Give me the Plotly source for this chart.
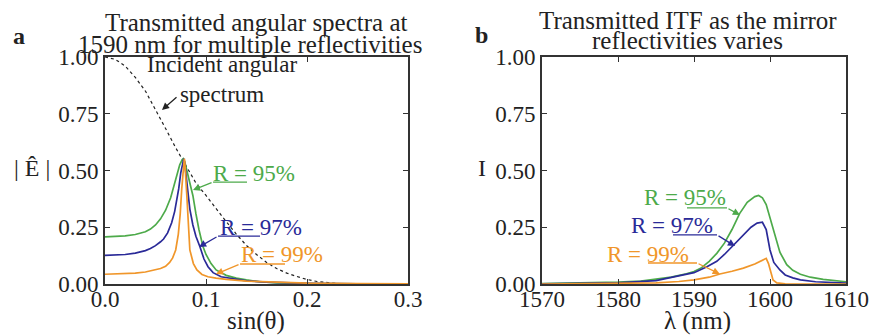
import plotly.graph_objects as go

W, H = 873, 335

# ---------------- data: panel a (angular spectra) ----------------
inc_x = [0.0, 0.01, 0.02, 0.03, 0.04, 0.05, 0.06, 0.07, 0.08, 0.09, 0.10, 0.11, 0.12,
         0.13, 0.14, 0.15, 0.16, 0.17, 0.18, 0.19, 0.20, 0.21, 0.22, 0.23, 0.25, 0.30]
inc_y = [1.0, 0.99, 0.96, 0.91, 0.85, 0.77, 0.685, 0.60, 0.52, 0.445, 0.39, 0.33, 0.275,
         0.22, 0.17, 0.13, 0.095, 0.068, 0.048, 0.033, 0.02, 0.011, 0.005, 0.002, 0.0, 0.0]

r95_x = [0.0, 0.01, 0.02, 0.03, 0.04, 0.045, 0.05, 0.055, 0.06, 0.065, 0.068, 0.071, 0.074,
         0.0765, 0.0775, 0.079, 0.081, 0.084, 0.087, 0.090, 0.093, 0.097, 0.100, 0.105, 0.110,
         0.120, 0.130, 0.140, 0.153, 0.170, 0.200, 0.250, 0.300]
r95_y = [0.208, 0.209, 0.212, 0.218, 0.23, 0.242, 0.26, 0.287, 0.325, 0.38, 0.43, 0.48, 0.525,
         0.548, 0.552, 0.537, 0.50, 0.45, 0.39, 0.31, 0.24, 0.165, 0.13, 0.09, 0.062,
         0.038, 0.026, 0.018, 0.010, 0.005, 0.002, 0.001, 0.0]

r97_x = [0.0, 0.01, 0.02, 0.03, 0.04, 0.045, 0.05, 0.055, 0.058, 0.062, 0.066, 0.069, 0.071,
         0.073, 0.075, 0.077, 0.078, 0.079, 0.0805, 0.082, 0.084, 0.087, 0.090, 0.094, 0.098,
         0.102, 0.107, 0.115, 0.127, 0.140, 0.160, 0.200, 0.250, 0.300]
r97_y = [0.126, 0.127, 0.13, 0.136, 0.147, 0.156, 0.169, 0.186, 0.198, 0.225, 0.27, 0.32, 0.37,
         0.42, 0.49, 0.54, 0.552, 0.53, 0.47, 0.40, 0.33, 0.26, 0.21, 0.164, 0.11,
         0.076, 0.05, 0.032, 0.022, 0.014, 0.008, 0.003, 0.001, 0.0]

r99_x = [0.0, 0.02, 0.03, 0.04, 0.05, 0.055, 0.06, 0.064, 0.067, 0.070, 0.0726, 0.0745, 0.076,
         0.0772, 0.078, 0.0785, 0.079, 0.080, 0.081, 0.082, 0.084, 0.0875, 0.091, 0.096, 0.102,
         0.110, 0.120, 0.140, 0.170, 0.200, 0.250, 0.300]
r99_y = [0.043, 0.045, 0.048, 0.053, 0.061, 0.068, 0.078, 0.095, 0.115, 0.15, 0.22, 0.31, 0.42,
         0.50, 0.54, 0.552, 0.54, 0.48, 0.39, 0.31, 0.15, 0.09, 0.062, 0.042, 0.032,
         0.026, 0.02, 0.013, 0.007, 0.004, 0.002, 0.001]

# ---------------- data: panel b (ITF vs wavelength) ----------------
b95_x = [1570, 1575, 1580, 1583, 1585, 1587, 1589, 1590, 1591, 1592, 1593, 1594, 1595, 1596,
         1597, 1598, 1598.5, 1599, 1599.5, 1600, 1600.7, 1601.3, 1602.2, 1603, 1604, 1605.3,
         1607, 1609, 1610]
b95_y = [0.002, 0.004, 0.008, 0.013, 0.02, 0.03, 0.045, 0.055, 0.072, 0.1, 0.135, 0.18, 0.24, 0.31,
         0.36, 0.385, 0.39, 0.38, 0.35, 0.29, 0.21, 0.14, 0.085, 0.06, 0.043, 0.03,
         0.02, 0.012, 0.01]

b97_x = [1570, 1575, 1580, 1585, 1587.3, 1590, 1591.7, 1593, 1594, 1595.2, 1596.5, 1597.5,
         1598.3, 1599, 1599.5, 1600, 1600.5, 1601.3, 1602, 1603, 1604, 1606, 1610]
b97_y = [0.001, 0.002, 0.005, 0.015, 0.03, 0.05, 0.076, 0.1, 0.13, 0.17, 0.215, 0.25,
         0.268, 0.272, 0.24, 0.15, 0.095, 0.062, 0.04, 0.027, 0.018, 0.01, 0.004]

b99_x = [1570, 1580, 1585, 1588, 1590, 1592, 1593.4, 1595, 1596.5, 1598, 1598.7, 1599.2,
         1599.5, 1599.8, 1600, 1600.2, 1600.4, 1600.9, 1602, 1610]
b99_y = [0.0, 0.002, 0.005, 0.011, 0.018, 0.03, 0.044, 0.056, 0.07, 0.088, 0.1, 0.11,
         0.113, 0.09, 0.062, 0.035, 0.018, 0.005, 0.001, 0.0]

y_ticks = [0.0, 0.25, 0.5, 0.75, 1.0]
xa_ticks = [0.0, 0.1, 0.2, 0.3]
xb_ticks = [1570, 1580, 1590, 1600, 1610]

GREEN = "#4daa4a"
BLUE = "#2a2a98"
ORANGE = "#f0962a"
AX = "#333333"
FONT = "Liberation Serif"

fig = go.Figure()

def line(x, y, color, xa, ya, dash=None, width=1.7):
    fig.add_trace(go.Scatter(x=x, y=y, mode="lines", xaxis=xa, yaxis=ya,
                             line=dict(color=color, width=width, dash=dash),
                             showlegend=False, hoverinfo="skip"))

line(inc_x, inc_y, "#222222", "x", "y", dash="3px,3px", width=1.2)
line(r95_x, r95_y, GREEN, "x", "y")
line(r97_x, r97_y, BLUE, "x", "y")
line(r99_x, r99_y, ORANGE, "x", "y")
line(b95_x, b95_y, GREEN, "x2", "y2")
line(b97_x, b97_y, BLUE, "x2", "y2")
line(b99_x, b99_y, ORANGE, "x2", "y2")

axcommon = dict(showline=True, linewidth=2, linecolor=AX, mirror="ticks", ticks="inside",
                ticklen=5, tickwidth=1.2, tickcolor=AX, showgrid=False, zeroline=False,
                automargin=False,
                tickfont=dict(family=FONT, size=23, color="#222"))

top, bottom = 57, 284
ydom = [1 - bottom / H, 1 - top / H]
fig.update_layout(
    width=W, height=H, margin=dict(l=0, r=0, t=0, b=0, autoexpand=False),
    paper_bgcolor="white", plot_bgcolor="white",
    xaxis=dict(domain=[105 / W, 408 / W], range=[0, 0.3], tickvals=xa_ticks,
               ticktext=[f"{v:.1f}" for v in xa_ticks], anchor="y",
               ticklabelstandoff=-7, **axcommon),
    yaxis=dict(domain=ydom, range=[0, 1], tickvals=y_ticks,
               ticktext=[f"{v:.2f}" for v in y_ticks], anchor="x", **axcommon),
    xaxis2=dict(domain=[542 / W, 846 / W], range=[1570, 1610], tickvals=xb_ticks,
                ticktext=[str(v) for v in xb_ticks], anchor="y2",
                ticklabelstandoff=-7, **axcommon),
    yaxis2=dict(domain=ydom, range=[0, 1], tickvals=y_ticks,
                ticktext=[f"{v:.2f}" for v in y_ticks], anchor="x2", **axcommon),
)

def ptext(px, py, text, size=23, color="#222", bold=False):
    if bold:
        text = f"<b>{text}</b>"
    fig.add_annotation(x=px / W, y=1 - py / H, xref="paper", yref="paper", text=text,
                       showarrow=False, xanchor="center", yanchor="middle",
                       font=dict(family=FONT, size=size, color=color))

# titles (one annotation per line for tight line spacing)
ptext(256, 22, "Transmitted angular spectra at", size=25)
ptext(250, 44, "1590 nm for multiple reflectivities", size=25)
ptext(688, 21, "Transmitted ITF as the mirror", size=25)
ptext(687, 40, "reflectivities varies", size=25)
ptext(19, 36, "a", size=24, bold=True)
ptext(481, 35, "b", size=24, bold=True)
# axis titles
ptext(256, 321, "sin(θ)", size=25)
ptext(697, 321, "λ (nm)", size=25)
ptext(32, 168, "| Ê |", size=24)
ptext(482, 168, "I", size=24)

def dtext(x, y, text, color, xr, yr, size=23):
    fig.add_annotation(x=x, y=y, xref=xr, yref=yr, text=text, showarrow=False,
                       xanchor="center", yanchor="middle",
                       font=dict(family=FONT, size=size, color=color))

def arrow(x0, y0, x1, y1, color, xr, yr):
    fig.add_annotation(x=x1, y=y1, ax=x0, ay=y0, xref=xr, yref=yr, axref=xr, ayref=yr,
                       text="", showarrow=True, arrowhead=2, arrowsize=1.1,
                       arrowwidth=1.3, arrowcolor=color, standoff=0, startstandoff=0)

def hline(x0, x1, y, color, xr, yr):
    fig.add_shape(type="line", x0=x0, x1=x1, y0=y, y1=y, xref=xr, yref=yr,
                  line=dict(color=color, width=1.3))

# panel a annotations
dtext(0.1158, 0.90, "Incident angular<br>spectrum", "#222", "x", "y")
arrow(0.0723, 0.828, 0.0564, 0.767, "#222", "x", "y")

dtext(0.1475, 0.489, "R = 95%", GREEN, "x", "y")
hline(0.107, 0.1406, 0.449, GREEN, "x", "y")
arrow(0.107, 0.449, 0.0871, 0.414, GREEN, "x", "y")

dtext(0.1545, 0.251, "R = 97%", BLUE, "x", "y")
hline(0.1119, 0.1535, 0.211, BLUE, "x", "y")
arrow(0.1119, 0.211, 0.0931, 0.163, BLUE, "x", "y")

dtext(0.1752, 0.128, "R = 99%", ORANGE, "x", "y")
hline(0.1337, 0.1782, 0.088, ORANGE, "x", "y")
arrow(0.1337, 0.088, 0.1099, 0.044, ORANGE, "x", "y")

# panel b annotations
dtext(1588.8, 0.383, "R = 95%", GREEN, "x2", "y2")
hline(1589.08, 1594.34, 0.335, GREEN, "x2", "y2")
arrow(1594.34, 0.335, 1596.05, 0.304, GREEN, "x2", "y2")

dtext(1587.1, 0.256, "R = 97%", BLUE, "x2", "y2")
hline(1587.24, 1593.03, 0.216, BLUE, "x2", "y2")
arrow(1593.03, 0.216, 1595.4, 0.167, BLUE, "x2", "y2")

dtext(1583.9, 0.132, "R = 99%", ORANGE, "x2", "y2")
hline(1583.95, 1590.4, 0.0925, ORANGE, "x2", "y2")
arrow(1590.4, 0.0925, 1593.4, 0.044, ORANGE, "x2", "y2")

fig.write_html("out.html", config={"displayModeBar": False},
               post_script="document.body.style.margin='0';")
